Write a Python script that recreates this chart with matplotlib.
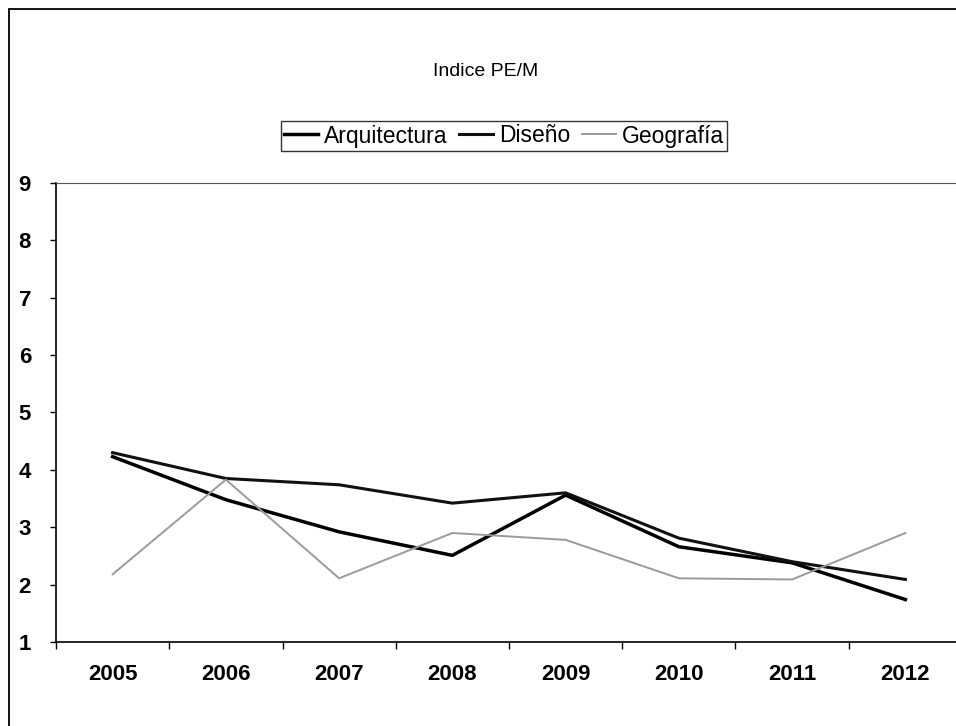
import numpy as np
import matplotlib
matplotlib.use('Agg')
import matplotlib.pyplot as plt
from matplotlib.patches import Rectangle

years = ['2005', '2006', '2007', '2008', '2009', '2010', '2011', '2012']
arquitectura = [4.23, 3.48, 2.92, 2.51, 3.56, 2.66, 2.38, 1.74]
diseno = [4.30, 3.85, 3.74, 3.42, 3.60, 2.81, 2.40, 2.09]
geografia = [2.18, 3.83, 2.11, 2.90, 2.78, 2.11, 2.09, 2.90]
yticks = [1, 2, 3, 4, 5, 6, 7, 8, 9]

plt.rcParams['font.family'] = ['Liberation Sans', 'DejaVu Sans']

W, H = 956, 726
fig = plt.figure(figsize=(W / 100, H / 100), dpi=100)
# outer chart border (runs off the right/bottom like the scan)
fig.patches.append(Rectangle((9 / W, -0.1), 1.2, 1 - 9 / H + 0.1, transform=fig.transFigure,
                             fill=False, edgecolor='black', linewidth=1.3))

ax = fig.add_axes([56 / W, 1 - 642 / H, (962 - 56) / W, (642 - 183) / H])
x = np.arange(len(years))
ax.plot(x, arquitectura, color='black', linewidth=2.5, label='Arquitectura')
ax.plot(x, diseno, color='#111111', linewidth=2.2, label='Diseño')
ax.plot(x, geografia, color='#9a9a9a', linewidth=1.4, label='Geografía')

ax.set_xlim(-0.5, len(years) - 0.5)
ax.set_ylim(1, 9)
ax.set_yticks(yticks)
ax.set_yticklabels([str(v) for v in yticks], fontsize=16, fontweight='bold')
ax.set_xticks(x)
ax.set_xticklabels(years, fontsize=16, fontweight='bold')
ax.set_xticks(np.arange(-0.5, len(years), 1), minor=True)
ax.tick_params(axis='x', which='major', length=0, pad=16)
ax.tick_params(axis='x', which='minor', length=5, direction='out', width=1)
ax.tick_params(axis='y', length=4, direction='out', width=1, pad=14)
for s in ['left', 'bottom']:
    ax.spines[s].set_linewidth(1.2)
ax.spines['top'].set_linewidth(0.8)
ax.spines['top'].set_color('#555555')
ax.spines['right'].set_visible(False)

fig.text(486 / W, 1 - 72 / H, 'Indice PE/M', ha='center', va='center', fontsize=14)
leg = fig.legend(loc='center', bbox_to_anchor=(504 / W, 1 - 136 / H), ncol=3, fontsize=16.5,
                 frameon=True, fancybox=False, edgecolor='black', handlelength=1.5,
                 handletextpad=0.25, columnspacing=0.5, borderpad=0.15, borderaxespad=0)
leg.get_frame().set_linewidth(1.0)

fig.savefig('out.png', dpi=100)
